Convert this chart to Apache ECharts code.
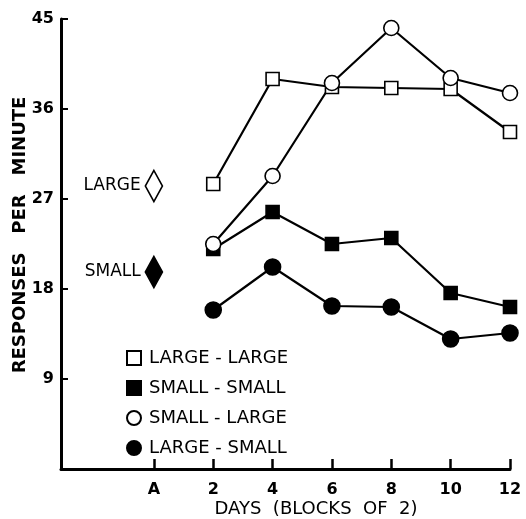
<!DOCTYPE html>
<html><head><meta charset="utf-8">
<script src="https://cdn.jsdelivr.net/npm/echarts@6/dist/echarts.min.js"></script>
<style>html,body{margin:0;padding:0;background:#fff}#c{width:526px;height:519px}</style>
</head><body><div id="c"></div>
<script>
const days = [2, 4, 6, 8, 10, 12];
const xTicks = [0, 2, 4, 6, 8, 10, 12];
const xTickLabels = ['A', '2', '4', '6', '8', '10', '12'];
const yTicks = [9, 18, 27, 36, 45];
const largeLarge = [28.5, 39.0, 38.2, 38.1, 38.0, 33.7];
const smallSmall = [22.0, 25.7, 22.5, 23.1, 17.6, 16.2];
const smallLarge = [22.5, 29.3, 38.6, 44.1, 39.1, 37.6];
const largeSmall = [15.9, 20.2, 16.3, 16.2, 13.0, 13.6];
const acqLabels = ['LARGE', 'SMALL'];
const acqValues = [28.3, 19.7];
const seriesNames = ['LARGE - LARGE', 'SMALL - SMALL', 'SMALL - LARGE', 'LARGE - SMALL'];

const FONT = 'DejaVu Sans';
const pts = arr => days.map((d, i) => [d, arr[i]]);
const lineSeries = (name, arr, symbol, size, filled) => ({
  name, type: 'line', data: pts(arr), symbol, symbolSize: size,
  lineStyle: { color: '#000', width: 2.2 },
  itemStyle: { color: filled ? '#000' : '#fff', borderColor: '#000', borderWidth: 1.6, opacity: 1 },
  emphasis: { disabled: true }, z: 3
});

const chart = echarts.init(document.getElementById('c'));
chart.setOption({
  animation: false,
  backgroundColor: '#fff',
  grid: { left: 61, right: 16, top: 19, bottom: 50, outerBoundsMode: 'none', containLabel: false },
  xAxis: {
    type: 'value', min: -3.13, max: 12,
    axisLine: { lineStyle: { color: '#000', width: 3 } },
    axisTick: { inside: true, length: 10, lineStyle: { color: '#000', width: 2.5 }, customValues: xTicks },
    axisLabel: { customValues: xTicks, formatter: v => xTickLabels[xTicks.indexOf(v)] ?? '',
      color: '#000', fontFamily: FONT, fontWeight: 'bold', fontSize: 16, margin: 13 },
    splitLine: { show: false }
  },
  yAxis: {
    type: 'value', min: 0, max: 45, interval: 9,
    axisLine: { onZero: false, lineStyle: { color: '#000', width: 3 } },
    axisTick: { inside: true, length: 7, lineStyle: { color: '#000', width: 2 }, customValues: yTicks },
    axisLabel: { customValues: yTicks, color: '#000', fontFamily: FONT, fontWeight: 'bold', fontSize: 16, margin: 7 },
    splitLine: { show: false }
  },
  legend: {
    orient: 'vertical', left: 121, top: 344, itemGap: 12, itemWidth: 14, itemHeight: 14,
    textStyle: { color: '#000', fontFamily: FONT, fontSize: 18, lineHeight: 18, padding: [0, 0, 0, 3] },
    data: [
      { name: seriesNames[0], icon: 'rect' },
      { name: seriesNames[1], icon: 'rect' },
      { name: seriesNames[2], icon: 'circle' },
      { name: seriesNames[3], icon: 'circle' }
    ],
    selectedMode: false
  },
  graphic: [{
    type: 'text', x: 316, y: 509,
    style: { text: 'DAYS  (BLOCKS  OF  2)', fill: '#000', font: '18px "DejaVu Sans"', align: 'center', verticalAlign: 'middle' }
  }, {
    type: 'text', x: 20, y: 235, rotation: Math.PI / 2,
    style: { text: 'RESPONSES   PER   MINUTE', fill: '#000', font: 'bold 18px "DejaVu Sans"', align: 'center', verticalAlign: 'middle' }
  }],
  series: [
    lineSeries(seriesNames[0], largeLarge, 'rect', 13, false),
    lineSeries(seriesNames[1], smallSmall, 'rect', 13, true),
    lineSeries(seriesNames[2], smallLarge, 'circle', 15, false),
    lineSeries(seriesNames[3], largeSmall, 'circle', 16, true),
    {
      type: 'scatter', symbol: 'diamond', symbolSize: [17, 31],
      data: acqValues.map((v, i) => ({
        value: [0, v], name: acqLabels[i],
        itemStyle: { color: i === 0 ? '#fff' : '#000', borderColor: '#000', borderWidth: 1.8, opacity: 1 }
      })),
      label: { show: true, position: 'left', distance: 4, formatter: p => p.name,
        color: '#000', fontFamily: FONT, fontSize: 17 },
      emphasis: { disabled: true }, z: 3
    }
  ]
});
</script></body></html>
